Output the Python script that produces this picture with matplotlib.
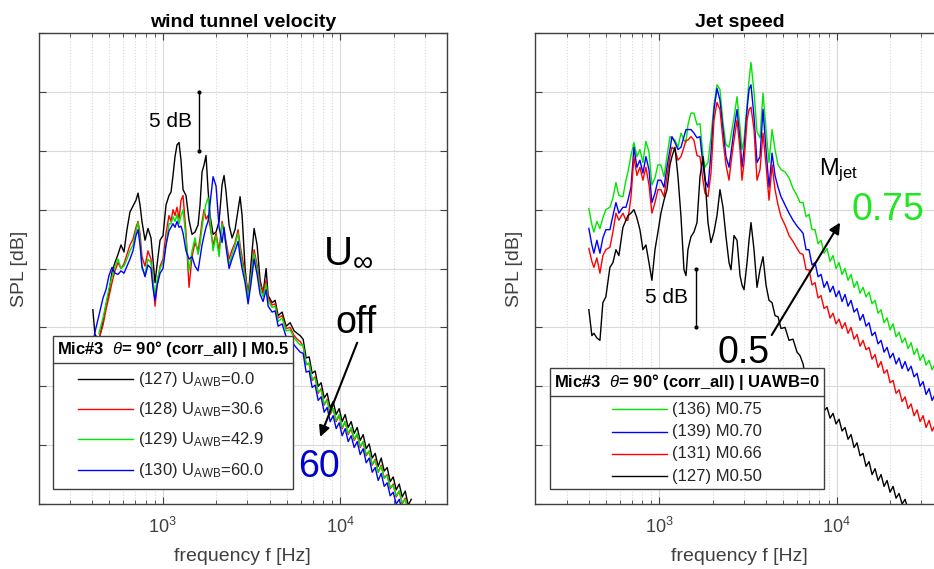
import numpy as np
import matplotlib
matplotlib.use('Agg')
import matplotlib.pyplot as plt
from matplotlib.patches import Rectangle
from matplotlib.lines import Line2D

plt.rcParams['font.family'] = ['Liberation Sans', 'DejaVu Sans']
plt.rcParams['mathtext.fontset'] = 'custom'
plt.rcParams['mathtext.rm'] = 'Liberation Sans'
plt.rcParams['mathtext.it'] = 'Liberation Sans:italic'
plt.rcParams['mathtext.bf'] = 'Liberation Sans:bold'
plt.rcParams['mathtext.default'] = 'regular'

nan = np.nan

# ---- wind tunnel velocity (left) ----
# frequencies [Hz], low/mid part and high-frequency part
f_left_lf = [404, 415, 437, 461, 479, 498, 518, 538, 560, 582,
             605, 629, 654, 680, 707, 726, 745, 764, 795, 826,
             859, 882, 905, 929, 966, 1004, 1044, 1085, 1114, 1143,
             1173, 1204, 1236, 1268, 1302, 1353, 1407, 1463, 1521, 1582,
             1623, 1666, 1710, 1754, 1801, 1848, 1922, 1998, 2078, 2160,
             2217, 2275, 2366, 2460, 2557, 2659, 2729, 2801, 2912, 3028,
             3148, 3273, 3403, 3539, 3679, 3825, 3927, 4136, 4300, 4471,
             4709, 4960, 5224, 5503, 5721, 5948]
f_left_hf = [6184, 6431, 6687, 6953, 7228, 7515, 7813, 8123, 8447, 8781,
             9131, 9493, 9872, 10264, 10671, 11094, 11535, 11995, 12471, 12966,
             13481, 14016, 14575, 15152, 15753, 16378, 17029, 17709, 18412, 19143,
             19902, 20693, 21518, 22372, 23260, 24183, 25152]

spl_127_lf = [36.5, 34.4, 33.9, 35.5, 36.9, 38.0, 39.7, 40.5, 41.2, 42.0,
              41.4, 43.3, 44.8, 45.3, 45.8, 46.4, 45.4, 44.0, 42.4, 43.4,
              42.6, 40.7, 38.8, 40.3, 42.4, 42.8, 45.4, 46.2, 46.5, 47.9,
              49.5, 50.5, 50.7, 49.2, 46.7, 46.2, 44.1, 42.9, 43.1, 43.7,
              45.4, 48.2, 48.8, 49.6, 46.7, 44.5, 42.9, 43.1, 44.0, 47.1,
              47.9, 46.5, 43.7, 42.6, 43.3, 45.0, 46.1, 44.5, 40.0, 37.5,
              40.5, 43.4, 42.0, 39.0, 37.9, 40.0, 37.7, 37.1, 37.3, 36.0,
              36.3, 35.1, 35.4, 34.7, 34.5, 34.3]
spl_128_lf = [nan, nan, 34.0, 35.2, 36.5, 37.6, 38.8, 39.8, 40.5, 40.0,
              40.4, 41.2, 42.0, 42.5, 43.5, 44.0, 43.0, 41.0, 40.2, 41.5,
              40.8, 39.0, 36.8, 38.5, 40.2, 40.8, 43.0, 44.5, 44.0, 45.0,
              44.5, 45.2, 44.2, 45.8, 46.2, 43.0, 38.4, 41.0, 42.2, 41.5,
              42.6, 44.0, 45.0, 44.2, 44.5, 43.6, 42.0, 43.0, 41.5, 44.0,
              43.2, 42.3, 40.8, 41.6, 42.2, 43.3, 42.0, 41.0, 39.5, 37.8,
              39.5, 41.6, 40.3, 38.7, 38.0, 39.0, 37.5, 36.9, 37.0, 35.8,
              36.0, 34.9, 35.0, 34.3, 34.0, 33.8]
spl_129_lf = [nan, nan, 34.5, 35.8, 37.0, 38.3, 39.3, 40.2, 40.8, 40.0,
              40.2, 40.8, 41.5, 42.0, 43.2, 43.9, 42.5, 40.0, 39.5, 40.8,
              40.5, 38.8, 37.8, 39.0, 40.0, 40.5, 42.0, 43.8, 43.8, 44.4,
              44.0, 44.6, 43.8, 44.5, 45.0, 42.5, 39.8, 41.5, 42.6, 41.2,
              42.0, 43.5, 44.6, 45.5, 46.0, 44.2, 41.5, 42.8, 41.0, 43.8,
              43.0, 42.0, 40.3, 41.2, 42.0, 43.0, 41.6, 40.5, 39.3, 37.5,
              39.3, 41.3, 40.0, 38.3, 37.6, 38.7, 37.2, 36.7, 36.8, 35.5,
              35.8, 34.7, 34.8, 34.1, 33.8, 33.5]
spl_130_lf = [33.6, 34.6, 36.0, 37.5, 38.2, 39.4, 40.1, 39.6, 39.5, 39.8,
              39.6, 40.2, 40.8, 41.5, 42.8, 43.3, 42.0, 40.2, 39.3, 40.3,
              40.0, 38.3, 37.3, 38.5, 39.6, 40.0, 42.0, 43.2, 43.5, 43.8,
              43.5, 44.0, 43.5, 43.6, 43.0, 41.5, 40.8, 41.0, 40.2, 39.8,
              40.9, 42.0, 42.8, 43.5, 44.0, 45.5, 47.8, 47.0, 43.5, 42.2,
              43.5, 41.8, 40.0, 40.8, 41.5, 42.3, 41.0, 40.0, 38.8, 37.0,
              38.8, 40.8, 39.5, 37.8, 37.2, 38.2, 36.8, 36.3, 36.4, 35.1,
              35.3, 34.2, 34.2, 33.5, 33.2, 32.9]

spl_127_hf = [34.0, 32.4, 32.5, 31.1, 31.3, 30.0, 30.3, 29.0, 29.4, 28.2,
              28.7, 27.6, 28.1, 27.0, 27.6, 26.5, 27.0, 26.0, 26.5, 25.4,
              25.9, 24.7, 25.1, 23.9, 24.3, 23.2, 23.9, 22.8, 23.1, 21.9,
              22.3, 21.2, 21.7, 20.6, 21.1, 19.9, 20.4]
spl_128_hf = [33.4, 31.9, 31.9, 30.5, 30.8, 29.4, 29.8, 28.4, 28.9, 27.6,
              28.1, 27.0, 27.5, 26.4, 27.0, 25.9, 26.4, 25.4, 25.9, 24.8,
              25.3, 24.1, 24.5, 23.3, 23.8, 22.7, 23.3, 22.2, 22.5, 21.3,
              21.7, 20.6, 21.1, 20.0, 20.5, 19.4, 19.8]
spl_129_hf = [33.5, 31.8, 32.0, 30.6, 30.7, 29.5, 29.7, 28.5, 28.8, 27.7,
              28.1, 27.1, 27.6, 26.5, 27.0, 26.0, 26.5, 25.5, 26.0, 24.9,
              25.3, 24.2, 24.5, 23.4, 23.7, 22.7, 23.2, 22.2, 22.4, 21.4,
              21.6, 20.7, 21.1, 20.1, 20.4, 19.5, 19.8]
spl_130_hf = [32.8, 31.2, 31.3, 29.9, 30.1, 28.8, 29.1, 27.8, 28.2, 27.0,
              27.5, 26.4, 26.9, 25.8, 26.4, 25.3, 25.8, 24.8, 25.3, 24.2,
              24.7, 23.5, 23.9, 22.7, 23.1, 22.0, 22.6, 21.5, 21.8, 20.7,
              21.0, 20.0, 20.4, 19.4, 19.8, 19.0, 19.2]

left_labels = ['(127) U$_{AWB}$=0.0', '(128) U$_{AWB}$=30.6',
               '(129) U$_{AWB}$=42.9', '(130) U$_{AWB}$=60.0']

# ---- jet speed (right) ----
f_right_lf = [401, 417, 428, 445, 463, 481, 500, 527, 548, 570,
              592, 624, 649, 666, 693, 720, 748, 778, 809, 841,
              875, 909, 946, 983, 1022, 1063, 1105, 1149, 1179, 1226,
              1275, 1326, 1378, 1415, 1451, 1509, 1569, 1632, 1697, 1764,
              1810, 1882, 1957, 2035, 2116, 2199, 2287, 2378, 2473, 2538,
              2638, 2744, 2853, 2928, 3005, 3125, 3207, 3290, 3421, 3557,
              3698, 3845, 3998, 4157, 4323, 4495, 4673, 4859, 5117, 5390,
              5676, 5979, 6218]
f_right_hf = [6466, 6724, 6988, 7266, 7555, 7857, 8169, 8492, 8829, 9180,
              9544, 9922, 10316, 10727, 11153, 11595, 12056, 12534, 13032, 13551,
              14088, 14648, 15230, 15838, 16465, 17119, 17801, 18507, 19243, 20007,
              20801, 21627, 22491, 23383, 24313, 25278, 26281, 27326, 28412, 29541,
              30715, 31934, 33207, 34525, 35892]

spl_136_lf = [45.1, 43.7, 43.1, 44.0, 43.4, 44.3, 45.0, 45.2, 46.0, 47.3,
              46.2, 46.1, 47.5, 48.2, 49.6, 50.7, 49.5, 50.1, 49.0, 50.8,
              49.9, 47.1, 47.7, 48.8, 48.8, 47.8, 49.5, 51.2, 51.1, 50.9,
              50.3, 51.5, 50.9, 50.7, 52.2, 53.2, 53.2, 52.2, 52.3, 49.6,
              48.6, 49.0, 51.2, 53.9, 55.6, 55.2, 52.4, 50.5, 50.3, 51.3,
              52.8, 54.6, 52.0, 50.1, 50.9, 53.9, 56.0, 57.5, 55.0, 51.6,
              51.1, 54.9, 51.8, 49.0, 51.8, 50.1, 48.8, 48.4, 48.2, 47.7,
              46.8, 46.2, 45.6]
spl_139_lf = [43.4, 42.0, 41.3, 42.4, 41.3, 42.6, 43.3, 43.3, 44.5, 45.6,
              44.7, 45.2, 45.2, 45.8, 46.9, 50.3, 48.6, 49.2, 48.1, 49.5,
              48.4, 45.6, 46.4, 47.5, 47.5, 46.9, 48.6, 50.1, 51.2, 50.7,
              50.1, 50.3, 51.2, 51.8, 51.8, 51.8, 51.5, 51.1, 51.2, 48.8,
              47.5, 46.9, 49.8, 53.5, 55.3, 54.3, 51.8, 49.5, 48.6, 49.8,
              51.8, 53.5, 50.9, 48.6, 50.1, 53.5, 55.2, 55.6, 52.9, 49.0,
              49.5, 53.5, 50.1, 46.9, 49.8, 47.9, 46.9, 46.1, 45.4, 44.7,
              44.1, 43.6, 43.3]
spl_131_lf = [41.7, 40.6, 40.1, 40.9, 39.6, 41.1, 41.6, 41.8, 43.1, 44.7,
              44.1, 44.7, 44.1, 44.1, 46.1, 49.5, 47.9, 48.6, 47.5, 48.6,
              47.1, 44.7, 45.6, 46.7, 46.7, 46.1, 47.8, 49.5, 50.3, 50.1,
              49.2, 49.5, 50.3, 50.9, 50.9, 51.2, 50.9, 49.6, 49.5, 47.5,
              46.4, 46.1, 48.1, 52.6, 54.1, 53.5, 50.9, 48.8, 47.5, 49.0,
              50.9, 52.6, 50.1, 47.5, 49.0, 52.6, 53.5, 53.7, 51.8, 47.5,
              48.4, 51.5, 48.8, 45.8, 48.8, 46.7, 45.4, 44.4, 43.7, 42.8,
              42.3, 41.7, 41.3]
spl_127j_lf = [36.5, 34.3, 34.5, 34.1, 33.9, 37.1, 37.6, 40.1, 40.5, 41.6,
               41.1, 43.5, 44.1, 44.5, 44.7, 45.0, 44.3, 43.3, 41.6, 42.0,
               40.5, 39.0, 41.6, 43.1, 44.7, 45.8, 46.7, 48.8, 49.5, 50.3,
               47.8, 44.4, 39.9, 39.4, 41.6, 42.7, 43.1, 43.9, 47.8, 49.5,
               47.8, 43.9, 42.2, 43.1, 44.5, 46.7, 45.2, 42.7, 40.5, 39.9,
               42.8, 42.4, 39.4, 38.6, 38.2, 40.5, 42.4, 43.9, 41.6, 38.4,
               39.9, 41.0, 38.6, 37.3, 37.1, 36.0, 35.9, 34.9, 35.0, 33.9,
               34.0, 32.9, 32.6]

spl_136_hf = [45.6, 44.4, 44.6, 43.3, 43.3, 42.1, 42.4, 41.3, 41.7, 40.6,
              41.1, 40.0, 40.5, 39.5, 40.0, 39.0, 39.5, 38.4, 38.9, 37.9,
              38.4, 37.6, 38.0, 37.0, 37.3, 36.2, 36.5, 35.4, 35.8, 34.8,
              35.3, 34.2, 34.6, 33.7, 34.1, 33.2, 33.7, 32.7, 33.2, 32.2,
              32.7, 31.8, 32.2, 31.4, 31.9]
spl_139_hf = [43.0, 41.6, 41.6, 40.3, 40.5, 39.3, 39.5, 38.4, 38.9, 38.0,
              38.5, 37.6, 38.1, 37.2, 37.8, 36.8, 37.3, 36.3, 36.6, 35.6,
              36.1, 35.1, 35.4, 34.3, 34.6, 33.6, 33.9, 32.9, 33.3, 32.4,
              32.8, 31.9, 32.4, 31.5, 32.1, 31.3, 31.7, 30.8, 31.1, 30.0,
              30.4, 29.3, 29.8, 28.8, 29.3]
spl_131_hf = [41.2, 39.9, 39.9, 38.6, 38.8, 37.5, 37.7, 36.6, 36.8, 35.8,
              36.2, 35.3, 35.7, 34.9, 35.4, 34.5, 35.0, 34.0, 34.4, 33.4,
              33.9, 33.1, 33.3, 32.3, 32.7, 31.6, 32.1, 31.1, 31.4, 30.3,
              30.5, 29.4, 29.7, 28.7, 29.1, 28.1, 28.5, 27.5, 28.0, 27.0,
              27.5, 26.5, 27.1, 26.2, 26.7]
spl_127j_hf = [31.9, 30.5, 30.6, 29.4, 29.7, 28.6, 28.9, 27.9, 28.2, 27.3,
               27.7, 26.8, 27.2, 26.2, 26.5, 25.5, 25.9, 24.8, 25.2, 24.1,
               24.3, 23.2, 23.6, 22.5, 23.0, 22.0, 22.5, 21.5, 22.0, 21.0,
               21.5, 20.5, 20.9, 20.0, 20.4, 19.5, 19.9, 19.0, 19.1, 18.3,
               18.6, 17.8, 18.1, 17.3, 17.6]

right_labels = ['(136) M0.75', '(139) M0.70', '(131) M0.66', '(127) M0.50']

c_black = 'black'
c_red = '#ff0000'
c_green = '#00e600'
c_blue = '#0000ff'
txt_gray = '#404040'


def setup_axes(ax, title):
    ax.set_xscale('log')
    ax.set_xlim(200, 40000)
    ax.set_ylim(20, 60)
    ax.set_yticks([20, 25, 30, 35, 40, 45, 50, 55, 60])
    ax.set_yticklabels([])
    ax.grid(True, which='major', color='#d9d9d9', linewidth=0.8)
    ax.grid(True, which='minor', axis='x', color='#d9d9d9', linestyle=':', linewidth=0.8)
    ax.set_axisbelow(True)
    ax.tick_params(which='both', direction='in', top=True, right=True,
                   colors=txt_gray, labelsize=13, pad=9)
    ax.tick_params(which='major', length=5)
    ax.tick_params(which='minor', length=3)
    for s in ax.spines.values():
        s.set_color(txt_gray)
        s.set_linewidth(1.0)
    ax.set_title(title, fontweight='bold', fontsize=14, color='black', pad=4)
    ax.set_xlabel('frequency f [Hz]', fontsize=14, color=txt_gray)
    ax.set_ylabel('SPL [dB]', fontsize=14, color=txt_gray)
    ax.xaxis.set_label_coords(0.5, -0.094)


def draw_legend(ax, box, sep, title, title_y, labels, colors, ys, line_x, text_x):
    x0, y0, x1, y1 = box
    ax.add_patch(Rectangle((x0, y0), x1 - x0, y1 - y0, transform=ax.transAxes,
                           facecolor='white', edgecolor=txt_gray, lw=1.0, zorder=10))
    ax.add_line(Line2D([x0, x1], [sep, sep], transform=ax.transAxes,
                       color=txt_gray, lw=1.0, zorder=11))
    ax.text((x0 + x1) / 2, title_y, title, transform=ax.transAxes, ha='center',
            va='center', fontsize=12, fontweight='bold', color='black', zorder=12)
    for lab, c, y in zip(labels, colors, ys):
        ax.add_line(Line2D(line_x, [y, y], transform=ax.transAxes, color=c,
                           lw=1.0, zorder=11))
        ax.text(text_x, y, lab, transform=ax.transAxes, ha='left', va='center',
                fontsize=12, color='#262626', zorder=12)


fig = plt.figure(figsize=(9.34, 5.69), dpi=100)
ax1 = fig.add_axes([0.0414, 0.1142, 0.4372, 0.8278])
ax2 = fig.add_axes([0.5731, 0.1142, 0.4370, 0.8278])

# left panel
f_left = f_left_lf + f_left_hf
left_series = [spl_127_lf + spl_127_hf, spl_128_lf + spl_128_hf,
               spl_129_lf + spl_129_hf, spl_130_lf + spl_130_hf]
left_colors = [c_black, c_red, c_green, c_blue]
for spl, c in zip(left_series, left_colors):
    ax1.plot(f_left, spl, color=c, lw=1.0)
setup_axes(ax1, 'wind tunnel velocity')
ax1.yaxis.set_label_coords(-0.026, 0.5)

ax1.plot([1602, 1602], [50, 55], color='black', lw=1.0, marker='.', ms=4)
ax1.text(1463, 52.5, '5 dB', ha='right', va='center', fontsize=15)
ax1.text(8017, 40.5, 'U$_{∞}$', fontsize=29, ha='left', va='baseline')
ax1.text(9371, 34.5, 'off', fontsize=27, ha='left', va='baseline')
ax1.text(5797, 22.3, '60', fontsize=27, color='#0000d0', ha='left', va='baseline')
ax1.annotate('', xy=(7714, 25.7), xytext=(12470, 33.7),
             arrowprops=dict(arrowstyle='-|>', color='black', lw=1.5,
                             mutation_scale=16, shrinkA=0, shrinkB=0))

draw_legend(ax1, (0.0358, 0.0318, 0.6236, 0.3567), 0.300,
            'Mic#3  $\\mathit{\\theta}$= 90° (corr_all) | M0.5', 0.3283,
            left_labels, left_colors, [0.2654, 0.2017, 0.1380, 0.0722],
            [0.0963, 0.2310], 0.2432)

# right panel
f_right = f_right_lf + f_right_hf
right_series = [spl_136_lf + spl_136_hf, spl_139_lf + spl_139_hf,
                spl_131_lf + spl_131_hf, spl_127j_lf + spl_127j_hf]
right_colors = [c_green, c_blue, c_red, c_black]
for spl, c in zip(right_series, right_colors):
    ax2.plot(f_right, spl, color=c, lw=1.0)
setup_axes(ax2, 'Jet speed')
ax2.yaxis.set_label_coords(-0.030, 0.5)

ax2.plot([1611, 1611], [35, 40], color='black', lw=1.0, marker='.', ms=4)
ax2.text(1452, 37.5, '5 dB', ha='right', va='center', fontsize=15)
ax2.text(7958, 47.9, 'M$_{jet}$', fontsize=17, ha='left', va='baseline')
ax2.text(12167, 44.1, '0.75', fontsize=27, color='#22e622', ha='left', va='baseline')
ax2.text(2143, 32.0, '0.5', fontsize=27, color='black', ha='left', va='baseline')
ax2.annotate('', xy=(10452, 43.9), xytext=(4305, 34.35),
             arrowprops=dict(arrowstyle='-|>', color='black', lw=1.5,
                             mutation_scale=16, shrinkA=0, shrinkB=0))

draw_legend(ax2, (0.0360, 0.0318, 0.7073, 0.2887), 0.2293,
            'Mic#3  $\\mathit{\\theta}$= 90° (corr_all) | UAWB=0', 0.2590,
            right_labels, right_colors, [0.2011, 0.1535, 0.1062, 0.0594],
            [0.1871, 0.3219], 0.3342)

fig.savefig('out.png', dpi=100)
